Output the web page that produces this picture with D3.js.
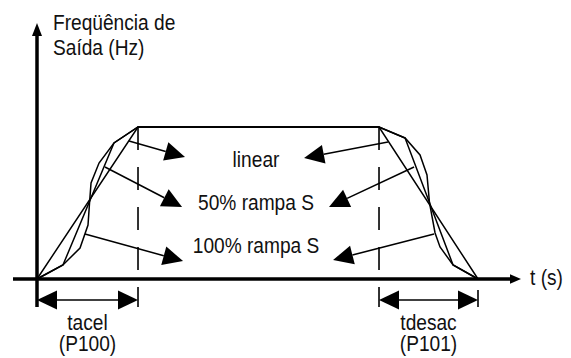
<!DOCTYPE html>
<html>
<head>
<meta charset="utf-8">
<script src="https://cdn.jsdelivr.net/npm/d3@7/dist/d3.min.js"></script>
<style>
  html, body { margin: 0; padding: 0; background: #fff; }
  svg { display: block; }
  text { font-family: "Liberation Sans Narrow", "Arial Narrow", "Liberation Sans", Arial, sans-serif; fill: #111; }
</style>
</head>
<body>
<script>
// ---- data (time in s, frequency normalised 0..1) ----
const phaseLabels = ["tacel", "tdesac"];
const phaseParams = ["(P100)", "(P101)"];
const rampLabels = ["linear", "50% rampa S", "100% rampa S"];
const phaseTimes = [0, 1.0, 3.386, 4.366];          // start, end accel, start decel, end decel

const linearT = [0, 1.0, 3.386, 4.366];
const linearF = [0, 1, 1, 0];

const s50T = [0, 0.257, 0.762, 1.0, 3.386, 3.644, 4.119, 4.366];
const s50F = [0, 0.092, 0.895, 1, 1, 0.928, 0.092, 0];

const s100T = [0, 0.257, 0.426, 0.505, 0.520, 0.535, 0.614, 0.762, 1.0,
               3.386, 3.644, 3.792, 3.861, 3.886, 3.941, 3.990, 4.119, 4.366];
const s100F = [0, 0.092, 0.204, 0.355, 0.5, 0.632, 0.763, 0.895, 1,
               1, 0.928, 0.816, 0.684, 0.5, 0.303, 0.211, 0.092, 0];

// annotation arrows: from a point on a curve to the label (t,f)
const arrowFromT = [0.911, 0.673, 0.475, 3.475, 3.733, 3.931];
const arrowFromF = [0.908, 0.737, 0.296, 0.901, 0.737, 0.296];
const arrowToT   = [1.465, 1.436, 1.446, 2.644, 2.891, 2.931];
const arrowToF   = [0.803, 0.474, 0.118, 0.796, 0.474, 0.125];

// ---- layout ----
const W = 571, H = 358;
const svg = d3.select("body").append("svg").attr("width", W).attr("height", H);

const x = d3.scaleLinear().domain([0, 4.366]).range([37, 478]);
const y = d3.scaleLinear().domain([0, 1]).range([279, 127]);

const zip = (ts, fs) => ts.map((t, i) => [t, fs[i]]);
const line = d3.line().x(d => x(d[0])).y(d => y(d[1]));

function arrowHead(x1, y1, x2, y2, len, hw) {
  const dx = x2 - x1, dy = y2 - y1, L = Math.hypot(dx, dy);
  const ux = dx / L, uy = dy / L;
  const bx = x2 - ux * len, by = y2 - uy * len;
  return { bx, by, pts: [[x2, y2], [bx - uy * hw, by + ux * hw], [bx + uy * hw, by - ux * hw]] };
}

// curves
[zip(linearT, linearF), zip(s50T, s50F), zip(s100T, s100F)].forEach(d => {
  svg.append("path").attr("d", line(d)).attr("fill", "none")
    .attr("stroke", "#000").attr("stroke-width", 1.5).attr("stroke-linejoin", "miter");
});

// dashed verticals
[phaseTimes[1], phaseTimes[2]].forEach(t => {
  svg.append("line").attr("x1", x(t)).attr("x2", x(t))
    .attr("y1", y(1)).attr("y2", 307)
    .attr("stroke", "#000").attr("stroke-width", 1.6).attr("stroke-dasharray", "23,17");
});
// end tick of decel dimension
svg.append("line").attr("x1", x(phaseTimes[3])).attr("x2", x(phaseTimes[3]))
  .attr("y1", 290).attr("y2", 307).attr("stroke", "#000").attr("stroke-width", 1.6);

// axes
svg.append("line").attr("x1", 13).attr("x2", 511).attr("y1", y(0)).attr("y2", y(0))
  .attr("stroke", "#000").attr("stroke-width", 3.5);
svg.append("polygon").attr("points", [[521, y(0)], [510, y(0) - 4.8], [510, y(0) + 4.8]].join(" "));
svg.append("line").attr("x1", x(0)).attr("x2", x(0)).attr("y1", 307).attr("y2", 33)
  .attr("stroke", "#000").attr("stroke-width", 3.5);
svg.append("polygon").attr("points", [[x(0), 23], [x(0) - 5, 36], [x(0) + 5, 36]].join(" "));

// annotation arrows
arrowFromT.forEach((t, i) => {
  const x1 = x(t), y1 = y(arrowFromF[i]), x2 = x(arrowToT[i]), y2 = y(arrowToF[i]);
  const h = arrowHead(x1, y1, x2, y2, 20, 9.5);
  svg.append("line").attr("x1", x1).attr("y1", y1).attr("x2", h.bx).attr("y2", h.by)
    .attr("stroke", "#000").attr("stroke-width", 1.5);
  svg.append("polygon").attr("points", h.pts.join(" ")).attr("fill", "#000");
});

// dimension arrows
[[phaseTimes[0], phaseTimes[1]], [phaseTimes[2], phaseTimes[3]]].forEach(([a, b]) => {
  const xa = x(a), xb = x(b), yy = 300;
  const h1 = arrowHead(xb, yy, xa, yy, 20, 9.5);
  const h2 = arrowHead(xa, yy, xb, yy, 20, 9.5);
  svg.append("line").attr("x1", h1.bx).attr("x2", h2.bx).attr("y1", yy).attr("y2", yy)
    .attr("stroke", "#000").attr("stroke-width", 1.5);
  svg.append("polygon").attr("points", h1.pts.join(" "));
  svg.append("polygon").attr("points", h2.pts.join(" "));
});

// labels (condensed look via horizontal scaling)
const fs = 21.5, sx = 0.89;
function label(tx, ty, s, anchor) {
  svg.append("text").attr("transform", `translate(${tx},${ty}) scale(${sx},1)`)
    .attr("text-anchor", anchor || "start").attr("font-size", fs).text(s);
}
label(53, 30, "Freqüência de");
label(53, 55, "Saída (Hz)");
label(530, 285, "t (s)");

const labelY = [167, 210, 253];
rampLabels.forEach((s, i) => label(256, labelY[i], s, "middle"));

[[phaseTimes[0], phaseTimes[1]], [phaseTimes[2], phaseTimes[3]]].forEach(([a, b], i) => {
  const cx = (x(a) + x(b)) / 2;
  label(cx, 330, phaseLabels[i], "middle");
  label(cx, 351, phaseParams[i], "middle");
});
</script>
</body>
</html>
